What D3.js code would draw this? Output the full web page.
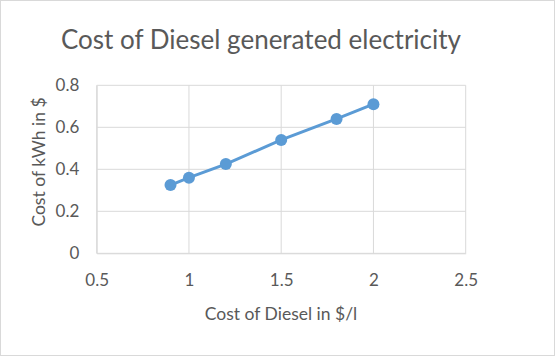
<!DOCTYPE html>
<html><head><meta charset="utf-8">
<script src="https://cdn.jsdelivr.net/npm/d3@7"></script>
<style>body{margin:0;background:#fff}svg{display:block}</style>
</head><body>
<script>
const xValues = [0.9, 1, 1.2, 1.5, 1.8, 2];
const yValues = [0.325, 0.36, 0.425, 0.54, 0.64, 0.71];
const xTicks = [0.5, 1, 1.5, 2, 2.5];
const yTicks = [0, 0.2, 0.4, 0.6, 0.8];
const title = "Cost of Diesel generated electricity";
const xTitle = "Cost of Diesel in $/l";
const yTitle = "Cost of kWh in $";

const W = 555, H = 356;
const font = "Lato, 'Open Sans', sans-serif";
const svg = d3.select("body").append("svg").attr("width", W).attr("height", H);
svg.append("rect").attr("x",0.5).attr("y",0.5).attr("width",W-1).attr("height",H-1)
  .attr("fill","#fff").attr("stroke","#d9d9d9");

const x = d3.scaleLinear().domain([0.5, 2.5]).range([96.7, 465.7]);
const y = d3.scaleLinear().domain([0, 0.8]).range([253.3, 85.3]);

// gridlines
svg.append("g").selectAll("line").data(yTicks).join("line")
  .attr("x1", x(0.5)).attr("x2", x(2.5)).attr("y1", d=>y(d)).attr("y2", d=>y(d))
  .attr("stroke","#d9d9d9").attr("stroke-width",1);
svg.append("g").selectAll("line").data(xTicks).join("line")
  .attr("y1", y(0)).attr("y2", y(0.8)).attr("x1", d=>x(d)).attr("x2", d=>x(d))
  .attr("stroke","#d9d9d9").attr("stroke-width",1);

// axes
const xAxis = svg.append("g").attr("transform",`translate(0,${y(0)})`)
  .call(d3.axisBottom(x).tickValues(xTicks).tickFormat(d3.format("~g")).tickSize(0).tickPadding(20.5));
const yAxis = svg.append("g").attr("transform",`translate(${x(0.5)},0)`)
  .call(d3.axisLeft(y).tickValues(yTicks).tickFormat(d3.format("~g")).tickSize(0).tickPadding(17.4));
[xAxis, yAxis].forEach(a=>{
  a.select(".domain").attr("stroke","#d9d9d9");
  a.selectAll("text").attr("font-family",font).attr("font-size",17).attr("fill","#595959");
});

// line + markers
const line = d3.line().x((d,i)=>x(xValues[i])).y(d=>y(d));
svg.append("path").datum(yValues).attr("d", line).attr("fill","none")
  .attr("stroke","#5b9bd5").attr("stroke-width",3).attr("stroke-linecap","round");
svg.append("g").selectAll("circle").data(yValues).join("circle")
  .attr("cx",(d,i)=>x(xValues[i])).attr("cy",d=>y(d)).attr("r",6).attr("fill","#5b9bd5");

// titles
svg.append("text").attr("x",261).attr("y",49).attr("text-anchor","middle")
  .attr("font-family",font).attr("font-size",26).attr("fill","#595959").text(title);
svg.append("text").attr("x",281).attr("y",320).attr("text-anchor","middle")
  .attr("font-family",font).attr("font-size",17.5).attr("fill","#595959").text(xTitle);
svg.append("text").attr("transform","translate(45,162) rotate(-90)").attr("text-anchor","middle")
  .attr("font-family",font).attr("font-size",17.5).attr("fill","#595959").text(yTitle);
</script>
</body></html>
